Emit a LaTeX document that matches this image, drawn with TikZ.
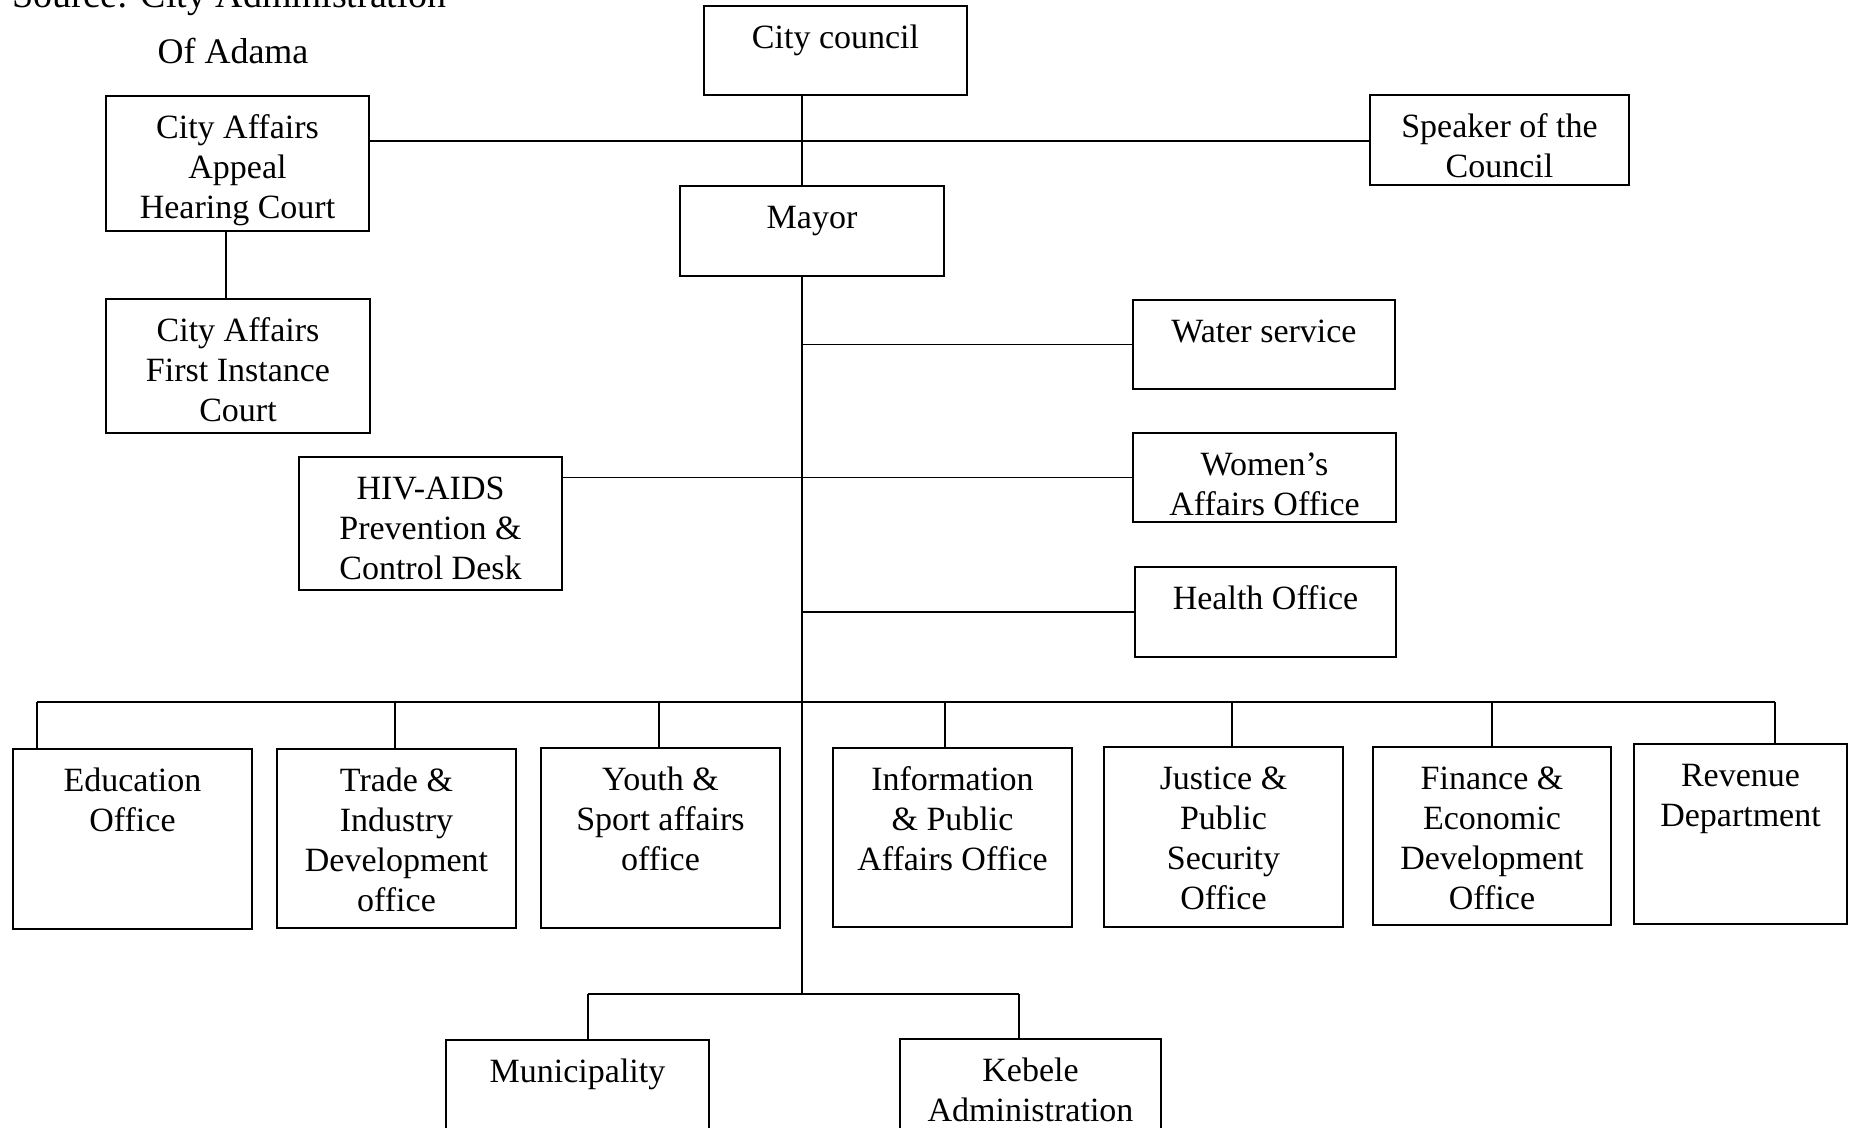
\documentclass[tikz,border=0pt]{standalone}
\usepackage{fontspec}
\setmainfont{Liberation Serif}
\usetikzlibrary{calc}
\tikzset{
  box/.style={draw, line width=2pt, inner sep=0pt},
  txt/.style={font=\fontsize{34}{40}\selectfont, align=center, inner sep=0pt, anchor=north},
  link/.style={line width=1.8pt},
}
\newcommand\orgbox[6]{%
  \node[box, minimum width={(#4-#2)*1pt}, minimum height={(#5-#3)*1pt}] (#1) at ({(#2+#4)/2},{(#3+#5)/2}) {};
  \node[txt] (#1t) at ({(#2+#4)/2},{#3+14}) {\strut #6};
}
\begin{document}
\begin{tikzpicture}[x=1pt,y=-1pt]
\useasboundingbox (0,0) rectangle (1855,1127);
\fill[white] (0,0) rectangle (1855,1127);

\node[anchor=base west, font=\fontsize{38}{40}\selectfont, inner sep=0pt] (src) at (12,7) {Source: City Administration};
\node[font=\fontsize{36}{40}\selectfont, inner sep=0pt] (adama) at (233,51) {Of Adama};

\orgbox{council}{704}{6}{967}{95}{City council}
\orgbox{appeal}{106}{96}{369}{231}{City Affairs\\Appeal\\Hearing Court}
\orgbox{speaker}{1370}{95}{1629}{185}{Speaker of the\\Council}
\orgbox{mayor}{680}{186}{944}{276}{Mayor}
\orgbox{first}{106}{299}{370}{433}{City Affairs\\First Instance\\Court}
\orgbox{water}{1133}{300}{1395}{389}{Water service}
\orgbox{women}{1133}{433}{1396}{522}{Women’s\\Affairs Office}
\orgbox{hiv}{299}{457}{562}{590}{HIV-AIDS\\Prevention \&\\Control Desk}
\orgbox{health}{1135}{567}{1396}{657}{Health Office}
\orgbox{edu}{13}{749}{252}{929}{Education\\Office}
\orgbox{trade}{277}{749}{516}{928}{Trade \&\\Industry\\Development\\office}
\orgbox{youth}{541}{748}{780}{928}{Youth \&\\Sport affairs\\office}
\orgbox{info}{833}{748}{1072}{927}{Information\\\& Public\\Affairs Office}
\orgbox{justice}{1104}{747}{1343}{927}{Justice \&\\Public\\Security\\Office}
\orgbox{finance}{1373}{747}{1611}{925}{Finance \&\\Economic\\Development\\Office}
\orgbox{revenue}{1634}{744}{1847}{924}{Revenue\\Department}
\orgbox{muni}{446}{1040}{709}{1150}{Municipality}
\orgbox{kebele}{900}{1039}{1161}{1150}{Kebele\\Administration}

\coordinate (tr) at (802,0);
\coordinate (hy) at (0,141);
\coordinate (av) at (226,0);
\coordinate (bot) at (802,994);
\draw[link] (council.south -| tr) -- (mayor.north -| tr);
\draw[link] (appeal.east |- hy) -- (speaker.west |- hy);
\draw[link] (appeal.south -| av) -- (first.north -| av);
\draw[link] (mayor.south -| tr) -- (bot);
\draw[link] (water.west -| tr) -- (water.west);
\draw[link] (hiv.east |- women.west) -- (women.west);
\draw[link] (health.west -| tr) -- (health.west);

\coordinate (d1) at (37,702);
\coordinate (d2) at (395,702);
\coordinate (d3) at (659,702);
\coordinate (d4) at (945,702);
\coordinate (d5) at (1232,702);
\coordinate (d6) at (1492,702);
\coordinate (d7) at (1775,702);
\draw[link] (d1) -- (d7);
\foreach \d/\b in {d1/edu,d2/trade,d3/youth,d4/info,d5/justice,d6/finance,d7/revenue}
  \draw[link] (\d) -- (\d |- \b.north);

\coordinate (b1) at (588,994);
\coordinate (b2) at (1019,994);
\draw[link] (b1) -- (b2);
\draw[link] (b1) -- (b1 |- muni.north);
\draw[link] (b2) -- (b2 |- kebele.north);
\end{tikzpicture}
\end{document}
